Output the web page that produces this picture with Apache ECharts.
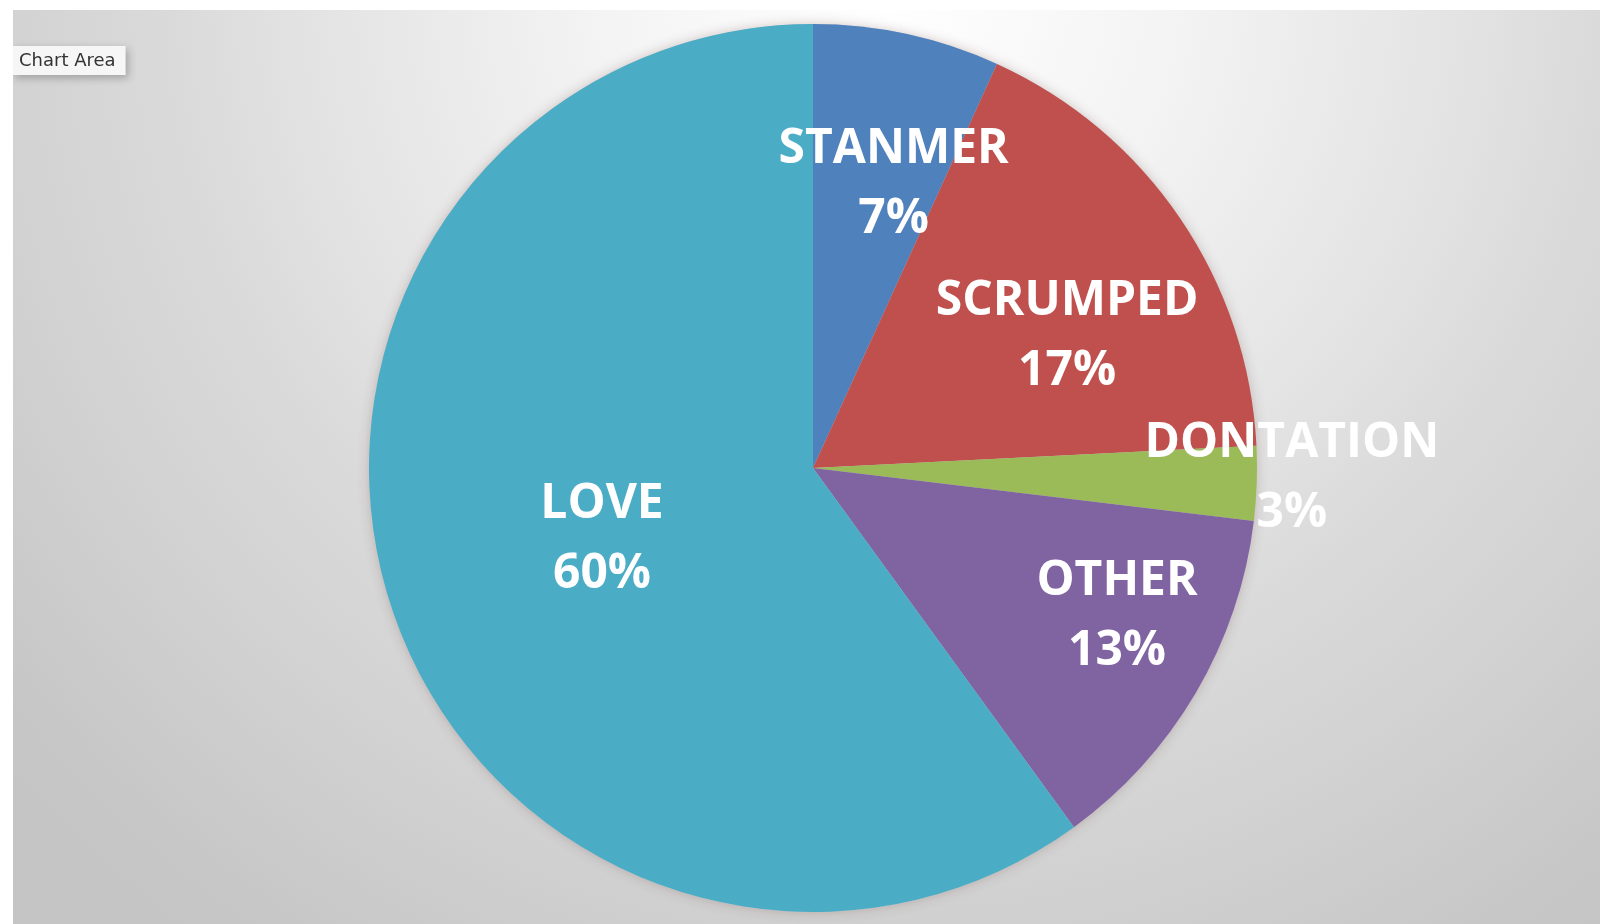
<!DOCTYPE html>
<html>
<head>
<meta charset="utf-8">
<script src="https://cdn.jsdelivr.net/npm/echarts@6/dist/echarts.min.js"></script>
<style>
  html, body { margin: 0; padding: 0; background: #ffffff; }
  #chart { position: absolute; left: 13px; top: 10px; width: 1587px; height: 914px; }
</style>
</head>
<body>
<div id="chart"></div>
<script>
// slices clockwise from 12 o'clock
var categories = ["STANMER", "SCRUMPED", "DONTATION", "OTHER", "LOVE"];
var values = [6.8, 17.4, 2.7, 13.1, 60.0];
var colors = ["#4F81BD", "#C0504D", "#9BBB59", "#8064A2", "#4BACC6"];
// Excel "best fit" puts labels off the half radius, nudge them
var labelOffsets = [[33, -64], [68, -5], [254, 3], [110, 34], [3, 2]];

var chartDom = document.getElementById("chart");
var myChart = echarts.init(chartDom);

var pieData = [];
for (var i = 0; i < categories.length; i++) {
  pieData.push({
    name: categories[i],
    value: values[i],
    itemStyle: { color: colors[i] },
    label: { offset: labelOffsets[i] }
  });
}

var option = {
  backgroundColor: new echarts.graphic.RadialGradient(0.55, -0.02, 1.3, [
    { offset: 0, color: "#ffffff" },
    { offset: 0.25, color: "#f3f3f3" },
    { offset: 0.5, color: "#e2e2e2" },
    { offset: 0.6, color: "#dadada" },
    { offset: 0.75, color: "#d2d2d2" },
    { offset: 0.95, color: "#c6c6c6" },
    { offset: 1, color: "#c5c5c5" }
  ]),
  animation: false,
  title: {
    text: "Chart Area",
    left: 0,
    top: 36,
    padding: [6, 10, 5, 6],
    backgroundColor: "#f6f6f6",
    shadowBlur: 8,
    shadowColor: "rgba(0,0,0,0.25)",
    shadowOffsetX: 2,
    shadowOffsetY: 3,
    textStyle: {
      fontFamily: "DejaVu Sans",
      fontSize: 18,
      fontWeight: "normal",
      color: "#333333"
    }
  },
  series: [
    {
      // soft shadow behind the whole pie
      name: "shadow",
      type: "pie",
      silent: true,
      center: [800, 458],
      radius: 444,
      label: { show: false },
      labelLine: { show: false },
      itemStyle: {
        color: "#cccccc",
        shadowBlur: 12,
        shadowColor: "rgba(120,80,80,0.3)"
      },
      data: [1],
      z: 1
    },
    {
      name: "Apples",
      type: "pie",
      center: [800, 458],
      radius: 444,
      startAngle: 90,
      clockwise: true,
      percentPrecision: 0,
      label: {
        show: true,
        position: "inside",
        formatter: "{b}\n{d}%",
        color: "#ffffff",
        fontFamily: "Open Sans",
        fontWeight: "bold",
        fontSize: 48,
        lineHeight: 70,
        align: "center"
      },
      labelLayout: { hideOverlap: false },
      labelLine: { show: false },
      itemStyle: { borderWidth: 0 },
      emphasis: { disabled: true },
      data: pieData,
      z: 2
    }
  ]
};

option && myChart.setOption(option);
</script>
</body>
</html>
